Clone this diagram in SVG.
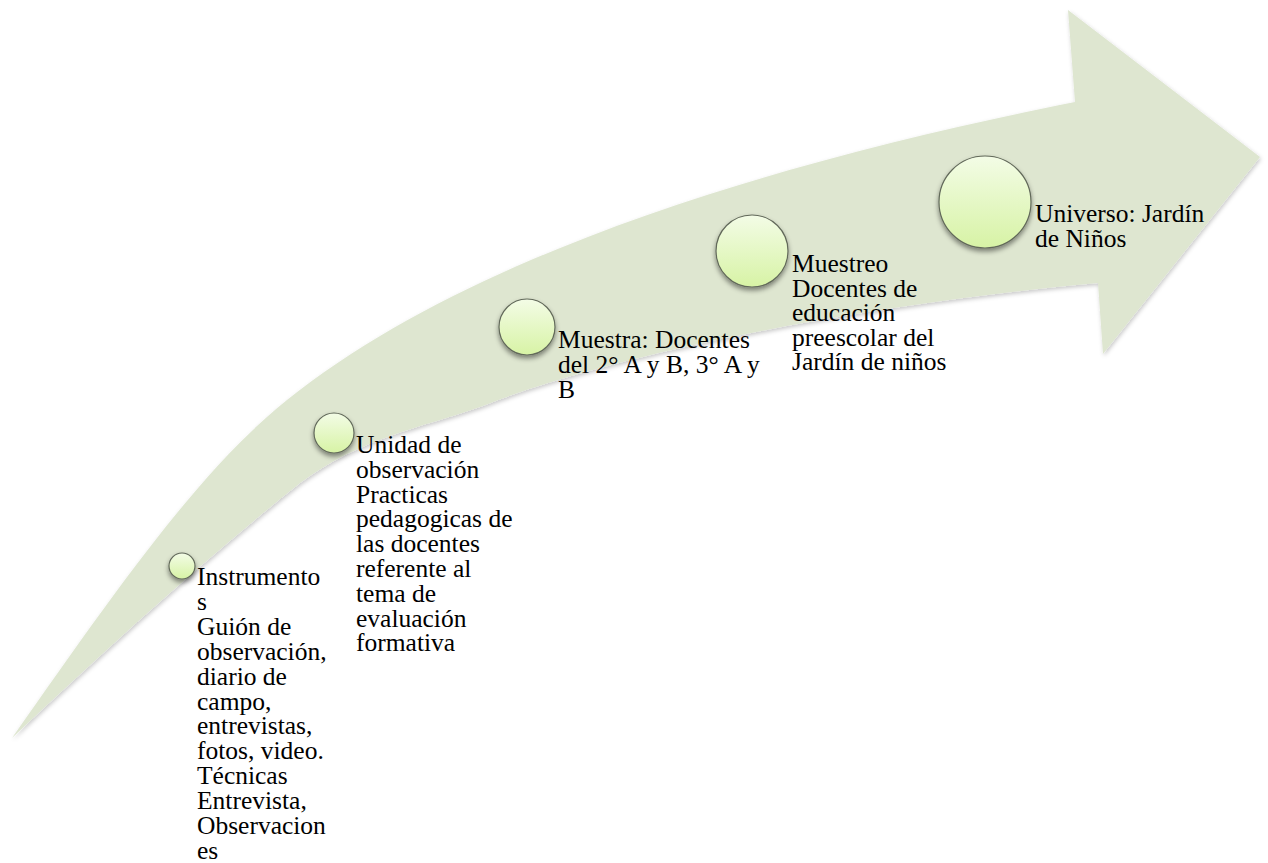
<svg xmlns="http://www.w3.org/2000/svg" width="1268" height="863" viewBox="0 0 1268 863">
  <defs>
    <linearGradient id="ballGrad" x1="0" y1="0" x2="0" y2="1">
      <stop offset="0" stop-color="#f3fce6"/>
      <stop offset="1" stop-color="#d7f3a5"/>
    </linearGradient>
    <filter id="arrowShadow" x="-5%" y="-5%" width="110%" height="115%">
      <feDropShadow dx="1" dy="2" stdDeviation="2" flood-color="#000" flood-opacity="0.22"/>
    </filter>
    <filter id="ballShadow" x="-30%" y="-30%" width="160%" height="170%">
      <feDropShadow dx="0" dy="3" stdDeviation="2.5" flood-color="#000" flood-opacity="0.45"/>
    </filter>
  </defs>
  <style>
    .ball { fill: url(#ballGrad); stroke: #62695a; stroke-width: 1.2; filter: url(#ballShadow); }
    .lbl { font-family: "Liberation Serif", "Times New Roman", serif; font-size: 25.5px; fill: #000; }
  </style>
  <rect width="1268" height="863" fill="#ffffff"/>
  <g id="arrow">
    <path d="M 12,738 C 112,596 197,472 287,400 C 487,240 825,152 1075,102 L 1068,10 L 1260,157 L 1103,354 L 1098,283 C 898,301 630,347 480,407 C 420,428 360,438 300,483 C 204,560 108,647 12,738 Z" fill="#dee6d0" filter="url(#arrowShadow)"/>
  </g>
  <g id="node-instrumentos">
    <circle class="ball" cx="182" cy="566" r="13"/>
    <text class="lbl" x="197" y="585">
      <tspan x="197" dy="0">Instrumento</tspan>
      <tspan x="197" dy="24.9">s</tspan>
      <tspan x="197" dy="24.9">Guión de</tspan>
      <tspan x="197" dy="24.9">observación,</tspan>
      <tspan x="197" dy="24.9">diario de</tspan>
      <tspan x="197" dy="24.9">campo,</tspan>
      <tspan x="197" dy="24.9">entrevistas,</tspan>
      <tspan x="197" dy="24.9">fotos, video.</tspan>
      <tspan x="197" dy="24.9">Técnicas</tspan>
      <tspan x="197" dy="24.9">Entrevista,</tspan>
      <tspan x="197" dy="24.9">Observacion</tspan>
      <tspan x="197" dy="24.9">es</tspan>
    </text>
  </g>
  <g id="node-unidad">
    <circle class="ball" cx="334" cy="433" r="20"/>
    <text class="lbl" x="356" y="453">
      <tspan x="356" dy="0">Unidad de</tspan>
      <tspan x="356" dy="24.8">observación</tspan>
      <tspan x="356" dy="24.8">Practicas</tspan>
      <tspan x="356" dy="24.8">pedagogicas de</tspan>
      <tspan x="356" dy="24.8">las docentes</tspan>
      <tspan x="356" dy="24.8">referente al</tspan>
      <tspan x="356" dy="24.8">tema de</tspan>
      <tspan x="356" dy="24.8">evaluación</tspan>
      <tspan x="356" dy="24.8">formativa</tspan>
    </text>
  </g>
  <g id="node-muestra">
    <circle class="ball" cx="527" cy="327" r="28"/>
    <text class="lbl" x="558" y="348">
      <tspan x="558" dy="0">Muestra: Docentes</tspan>
      <tspan x="558" dy="24.8">del 2° A y B, 3° A y</tspan>
      <tspan x="558" dy="24.8">B</tspan>
    </text>
  </g>
  <g id="node-muestreo">
    <circle class="ball" cx="752" cy="251" r="36"/>
    <text class="lbl" x="792" y="272">
      <tspan x="792" dy="0">Muestreo</tspan>
      <tspan x="792" dy="24.6">Docentes de</tspan>
      <tspan x="792" dy="24.6">educación</tspan>
      <tspan x="792" dy="24.6">preescolar del</tspan>
      <tspan x="792" dy="24.6">Jardín de niños</tspan>
    </text>
  </g>
  <g id="node-universo">
    <circle class="ball" cx="985" cy="202" r="46"/>
    <text class="lbl" x="1035" y="222">
      <tspan x="1035" dy="0">Universo: Jardín</tspan>
      <tspan x="1035" dy="24.8">de Niños</tspan>
    </text>
  </g>
</svg>
